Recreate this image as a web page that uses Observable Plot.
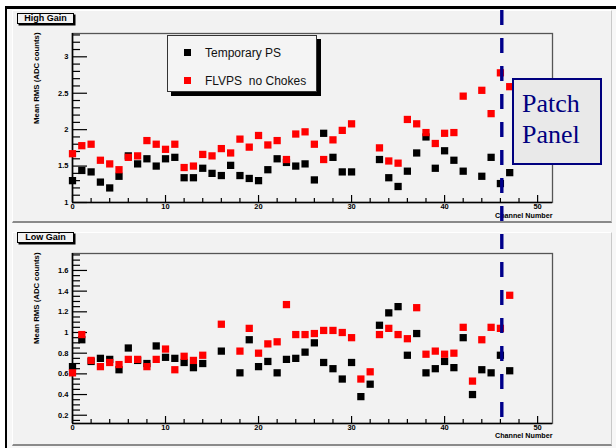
<!DOCTYPE html>
<html>
<head>
<meta charset="utf-8">
<script src="https://cdn.jsdelivr.net/npm/d3@7"></script>
<script src="https://cdn.jsdelivr.net/npm/@observablehq/plot@0.6"></script>
<style>
  html, body { margin: 0; padding: 0; background: #fff; }
  #root { position: relative; width: 616px; height: 448px; overflow: hidden; background: #fff;
          font-family: "Liberation Sans", Arial, sans-serif; }
  .outer { position: absolute; left: 5px; top: 6px; right: 0; bottom: 0;
           border-top: 3px solid #000; border-left: 2px solid #000; background: #f7f7f7; }
  .pad { position: absolute; box-sizing: border-box; background: #f2f2f2;
         border-top: 1px solid #fff; border-left: 1px solid #fff;
         border-right: 1px solid #c8c8c8; border-bottom: 2px solid #8a8a8a; }
  .plot { position: absolute; left: 0; }
  .title { position: absolute; box-sizing: border-box; background: #f2f2f2; border: 1px solid #000;
           box-shadow: 1.5px 1.5px 0 #000; font-weight: bold; font-size: 9px; text-align: center; }
  .legend { position: absolute; box-sizing: border-box; background: #f4f4f4; border: 1px solid #333;
            box-shadow: 4px 4px 0 #000; }
  .legend .sw { position: absolute; width: 7px; height: 7px; }
  .legend .lt { position: absolute; font-size: 12px; white-space: pre; color: #111; line-height: 14px; }
  .patch { position: absolute; box-sizing: border-box; background: #e9e9e9; border: 2px solid #00007f;
           color: #00007f; font-family: "Liberation Serif", "Times New Roman", serif; font-size: 26px;
           line-height: 31px; padding: 8px 0 0 8px; }
</style>
</head>
<body>
<div id="root">
  <div class="outer"></div>
  <div class="pad" style="left:12px;top:10px;width:600px;height:213px"></div>
  <div class="pad" style="left:12px;top:232px;width:600px;height:214px"></div>
</div>
<script>
// ---------- data ----------
const channels = d3.range(0, 48);
const seriesNames = ["Temporary PS", "FLVPS  no Chokes"];
const seriesColors = ["#000000", "#ff0000"];
const panelTitles = ["High Gain", "Low Gain"];
const yAxisTitle = "Mean RMS (ADC counts)";
const xAxisTitle = "Channel Number";
const patchPanelChannel = 46.15;
const patchPanelLabel = ["Patch", "Panel"];

const highTemporaryPS = [1.30,1.44,1.42,1.28,1.20,1.36,1.64,1.53,1.60,1.50,1.60,1.62,1.34,1.34,1.47,1.40,1.37,1.51,1.37,1.33,
  1.30,1.45,1.60,1.55,1.50,1.53,1.31,1.95,1.62,1.42,1.42,null,null,1.59,1.34,1.22,1.43,1.68,1.90,1.47,
  1.71,1.58,1.43,null,1.36,1.62,1.26,1.41];
const highFLVPS = [1.67,1.78,1.80,1.58,1.53,1.45,1.62,1.64,1.85,1.80,1.73,1.80,1.48,1.50,1.66,1.64,1.74,1.68,1.87,1.76,
  1.92,1.79,1.85,1.59,1.94,1.97,1.80,1.59,1.86,1.99,2.08,null,null,1.75,1.57,1.54,2.14,2.08,1.96,1.81,
  1.95,1.96,2.46,null,2.54,2.22,2.78,2.59];
const lowTemporaryPS = [0.67,0.93,0.72,0.75,0.74,0.64,0.85,0.73,0.70,0.87,0.76,0.75,0.71,0.66,0.70,null,0.82,null,0.61,0.93,
  0.67,0.72,0.61,0.74,0.75,0.81,0.90,0.71,0.65,0.55,0.71,0.38,0.50,1.07,1.19,1.25,0.78,0.99,0.61,0.65,
  0.72,0.66,0.95,0.40,0.64,0.61,0.78,0.63];
const lowFLVPS = [0.61,0.98,0.73,0.67,0.71,0.69,0.74,0.74,0.67,0.74,0.84,0.64,0.77,0.73,0.78,null,1.08,null,0.82,1.04,
  0.80,0.89,0.91,1.27,0.98,0.98,0.99,1.02,1.02,1.00,0.95,0.55,0.62,0.98,1.04,0.98,0.94,1.24,0.79,0.82,
  0.79,0.80,1.05,0.53,0.93,1.05,1.04,1.36];

const xTickLabels = [0, 10, 20, 30, 40, 50];
const highYTickLabels = [1, 1.5, 2, 2.5, 3];
const lowYTickLabels = [0.2, 0.4, 0.6, 0.8, 1, 1.2, 1.4, 1.6];

// ---------- helpers ----------
const rowsOf = vals => channels.map((c, i) => ({ch: c, v: vals[i]})).filter(d => d.v != null);
const minorTicks = (lo, hi, step, majors) =>
  d3.range(Math.ceil(lo / step - 1e-9), Math.floor(hi / step + 1e-9) + 1)
    .map(k => +(k * step).toFixed(4))
    .filter(v => v >= lo && v <= hi && !majors.some(m => Math.abs(m - v) < 1e-6));

const WIDTH = 616, ML = 72, MR = 64;
const FW = WIDTH - ML - MR;
const xDomain = [0, 51.6];

function panel(o) {
  const H = o.height - o.marginTop - o.marginBottom;
  const xMinor = minorTicks(0, 51.6, 2, xTickLabels);
  const yMinor = minorTicks(o.yDomain[0], o.yDomain[1], o.yMinorStep, o.yMajor);
  return Plot.plot({
    width: WIDTH, height: o.height,
    marginLeft: ML, marginRight: MR, marginTop: o.marginTop, marginBottom: o.marginBottom,
    x: {domain: xDomain},
    y: {domain: o.yDomain},
    style: {background: "transparent", fontFamily: "'Liberation Sans', Arial, sans-serif",
            fontSize: "7.5px", fontWeight: "bold", color: "#000", overflow: "visible"},
    marks: [
      Plot.frame({stroke: "#555", strokeWidth: 1.3}),
      Plot.ruleX([xDomain[0]], {stroke: "#000", strokeWidth: 1.6}),
      Plot.ruleY([o.yDomain[0]], {stroke: "#000", strokeWidth: 1.6}),
      Plot.tickY(o.yMajor, {y: d => d, stroke: "#000", strokeWidth: 1.2, insetRight: FW - 15}),
      Plot.tickY(yMinor, {y: d => d, stroke: "#000", strokeWidth: 1.2, insetRight: FW - 8}),
      Plot.tickX(xTickLabels, {x: d => d, stroke: "#000", strokeWidth: 1.2, insetTop: H - 7}),
      Plot.tickX(xMinor, {x: d => d, stroke: "#000", strokeWidth: 1.2, insetTop: H - 4}),
      Plot.axisY({ticks: o.yMajor, tickSize: 0, tickPadding: 4, label: null, tickFormat: d => String(d)}),
      Plot.axisX({ticks: xTickLabels, tickSize: 0, tickPadding: o.xPad, label: null, tickFormat: d => String(d)}),
      Plot.text([yAxisTitle], {text: d => d, frameAnchor: "top-left", rotate: -90, textAnchor: "end",
                               dx: -39, dy: -1, fontSize: 7.8}),
      Plot.text([xAxisTitle], {text: d => d, frameAnchor: "bottom-right", textAnchor: "end",
                               dy: o.titleDy, fontSize: 7.2}),
      Plot.dot(rowsOf(o.black), {x: "ch", y: "v", symbol: "square", r: 4.1, fill: seriesColors[0]}),
      Plot.dot(rowsOf(o.red), {x: "ch", y: "v", symbol: "square", r: 4.1, fill: seriesColors[1]}),
      Plot.ruleX([patchPanelChannel], {stroke: "#00008b", strokeWidth: 3.4, strokeDasharray: "15,13",
                  strokeDashoffset: o.dashOffset, insetTop: o.ruleInsetTop, insetBottom: o.ruleInsetBottom})
    ]
  });
}

const rootEl = document.getElementById("root");

const highPlot = panel({black: highTemporaryPS, red: highFLVPS, yDomain: [1, 3.32], yMajor: highYTickLabels,
  yMinorStep: 0.1, height: 224, marginTop: 33, marginBottom: 22, xPad: 1.5, titleDy: 15,
  ruleInsetTop: -23, ruleInsetBottom: -22, dashOffset: 0});
highPlot.classList.add("plot"); highPlot.style.top = "0px";
rootEl.appendChild(highPlot);

const lowPlot = panel({black: lowTemporaryPS, red: lowFLVPS, yDomain: [0.12, 1.764], yMajor: lowYTickLabels,
  yMinorStep: 0.05, height: 224, marginTop: 29, marginBottom: 25, xPad: 1, titleDy: 14,
  ruleInsetTop: -29, ruleInsetBottom: 6, dashOffset: 18});
lowPlot.classList.add("plot"); lowPlot.style.top = "224px";
rootEl.appendChild(lowPlot);

// panel titles
[[17, 13], [17, 232]].forEach(([l, t], i) => {
  const d = document.createElement("div");
  d.className = "title";
  d.style.cssText = `left:${l}px;top:${t}px;width:57px;height:11px;line-height:9px;`;
  d.textContent = panelTitles[i];
  rootEl.appendChild(d);
});

// legend
const lg = document.createElement("div");
lg.className = "legend";
lg.style.cssText = "left:167px;top:35px;width:150px;height:57px;";
seriesNames.forEach((name, i) => {
  const cy = i === 0 ? 16.5 : 44.5;
  const sw = document.createElement("div");
  sw.className = "sw";
  sw.style.cssText = `left:15.5px;top:${cy - 3.5}px;background:${seriesColors[i]};`;
  lg.appendChild(sw);
  const t = document.createElement("div");
  t.className = "lt";
  t.style.cssText = `left:37px;top:${cy - 7}px;`;
  t.textContent = name;
  lg.appendChild(t);
});
rootEl.appendChild(lg);

// patch panel annotation
const pp = document.createElement("div");
pp.className = "patch";
pp.style.cssText = "left:512px;top:78px;width:90px;height:87px;";
pp.innerHTML = patchPanelLabel.join("<br>");
rootEl.appendChild(pp);
</script>
</body>
</html>
